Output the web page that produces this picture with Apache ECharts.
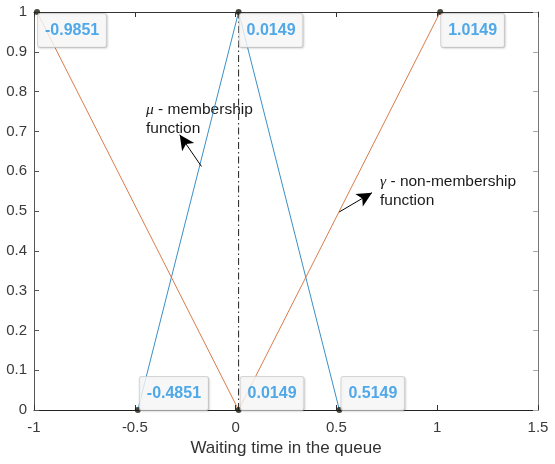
<!DOCTYPE html>
<html><head><meta charset="utf-8">
<script src="https://cdn.jsdelivr.net/npm/echarts@6/dist/echarts.min.js"></script>
<style>html,body{margin:0;padding:0;background:#fff}#c{width:555px;height:464px}</style>
</head><body><div id="c"></div>
<script>
// membership function (mu)
const muX = [-0.4851, 0.0149, 0.5149];
const muY = [0, 1, 0];
// non-membership function (gamma)
const nuX = [-0.9851, 0.0149, 1.0149];
const nuY = [1, 0, 1];
// dash-dot vertical line through the peak
const peakX = [0.0149, 0.0149];
const peakY = [0, 1];
// data tips
const tipX = [-0.9851, 0.0149, 1.0149, -0.4851, 0.0149, 0.5149];
const tipY = [1, 1, 1, 0, 0, 0];
// axis ranges
const xRange = [-1, 1.5], xStep = 0.5;
const yRange = [0, 1], yStep = 0.1;
const xTitle = 'Waiting time in the queue';
// annotation arrows (tail, head)
const muArrowX = [-0.1694, -0.2772], muArrowY = [0.612, 0.6917];
const nuArrowX = [0.514, 0.6766], nuArrowY = [0.4975, 0.546];

const FONT = '"Liberation Sans", Arial, Helvetica, sans-serif';
const zip = (xs, ys) => xs.map((x, i) => [x, ys[i]]);

const boxStyle = {
  show: true,
  formatter: p => p.value[0].toFixed(4),
  color: '#2494e4',
  fontFamily: FONT,
  fontWeight: 'bold',
  fontSize: 16,
  lineHeight: 17,
  backgroundColor: '#fbfbfb',
  borderColor: '#cdcdcd',
  borderWidth: 1,
  borderRadius: 2,
  padding: [8, 7, 8, 7],
  shadowColor: 'rgba(0,0,0,0.12)',
  shadowBlur: 2,
  shadowOffsetX: 1,
  shadowOffsetY: 1,
  align: 'left'
};
const tipData = tipX.map((x, i) => ({
  value: [x, tipY[i]],
  label: Object.assign({}, boxStyle, tipY[i] === 1
    ? { position: [4, 5], verticalAlign: 'top' }
    : { position: [5, 3], verticalAlign: 'bottom' })
}));

const arrowLine = (xs, ys) => ({
  silent: true,
  animation: false,
  symbol: ['none', 'arrow'],
  symbolSize: [11, 15],
  label: { show: false },
  lineStyle: { color: '#000', width: 1, type: 'solid' },
  itemStyle: { color: '#000' },
  data: [[{ coord: [xs[0], ys[0]] }, { coord: [xs[1], ys[1]] }]]
});

const tickCommon = { show: true, inside: true, length: 5 };
const chart = echarts.init(document.getElementById('c'));
chart.setOption({
  animation: false,
  backgroundColor: '#fff',
  textStyle: { fontFamily: FONT },
  grid: { left: 34, right: 17, top: 12, bottom: 54 },
  xAxis: [{
    type: 'value', min: xRange[0], max: xRange[1], interval: xStep,
    position: 'bottom',
    name: xTitle, nameLocation: 'middle', nameGap: 29,
    nameTextStyle: { fontSize: 17, color: '#333', fontFamily: FONT },
    axisLine: { show: true, onZero: false, lineStyle: { color: '#222', width: 1 } },
    axisTick: Object.assign({ lineStyle: { color: '#333' } }, tickCommon),
    axisLabel: { fontSize: 15, color: '#3a3a3a', margin: 10, fontFamily: FONT },
    splitLine: { show: false }
  }, {
    type: 'value', min: xRange[0], max: xRange[1], interval: xStep,
    position: 'top',
    axisLine: { show: true, onZero: false, lineStyle: { color: '#333', width: 1 } },
    axisTick: Object.assign({ lineStyle: { color: '#333' } }, tickCommon),
    axisLabel: { show: false },
    splitLine: { show: false }
  }],
  yAxis: [{
    type: 'value', min: yRange[0], max: yRange[1], interval: yStep,
    position: 'left',
    axisLine: { show: true, onZero: false, lineStyle: { color: '#555', width: 1 } },
    axisTick: Object.assign({ lineStyle: { color: '#555' } }, tickCommon),
    axisLabel: { fontSize: 15, color: '#3a3a3a', margin: 7, fontFamily: FONT },
    splitLine: { show: false }
  }, {
    type: 'value', min: yRange[0], max: yRange[1], interval: yStep,
    position: 'right',
    axisLine: { show: true, onZero: false, lineStyle: { color: '#777', width: 1 } },
    axisTick: Object.assign({ lineStyle: { color: '#aaa' } }, tickCommon),
    axisLabel: { show: false },
    splitLine: { show: false }
  }],
  series: [{
    name: 'mu', type: 'line', data: zip(muX, muY),
    symbol: 'none', lineStyle: { color: '#3c8fc5', width: 1 },
    markLine: arrowLine(muArrowX, muArrowY)
  }, {
    name: 'nu', type: 'line', data: zip(nuX, nuY),
    symbol: 'none', lineStyle: { color: '#d97c4a', width: 1 },
    markLine: arrowLine(nuArrowX, nuArrowY)
  }, {
    name: 'peak', type: 'line', data: zip(peakX, peakY),
    symbol: 'none', lineStyle: { color: '#222', width: 1, type: [7, 3, 1.5, 3] }
  }, {
    name: 'tips', type: 'scatter', data: tipData,
    symbol: 'circle', symbolSize: 6, clip: false,
    itemStyle: { color: '#1c1c12' }, z: 5
  }],
  graphic: [{
    type: 'text', left: 146, top: 100,
    style: {
      text: '{g|μ} - membership\nfunction',
      font: '15.5px ' + FONT, fill: '#1a1a1a', lineHeight: 19,
      rich: { g: { fontFamily: '"Liberation Serif", "DejaVu Serif", serif', fontStyle: 'italic', fontSize: 15.5, fill: '#1a1a1a' } }
    }
  }, {
    type: 'text', left: 380, top: 172,
    style: {
      text: '{g|γ} - non-membership\nfunction',
      font: '15.5px ' + FONT, fill: '#1a1a1a', lineHeight: 19,
      rich: { g: { fontFamily: '"Liberation Serif", "DejaVu Serif", serif', fontStyle: 'italic', fontSize: 15.5, fill: '#1a1a1a' } }
    }
  }]
});
</script></body></html>
